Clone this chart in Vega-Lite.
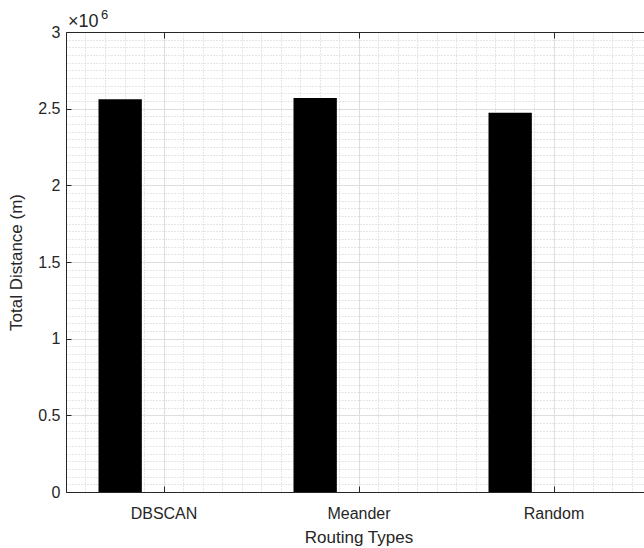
{
  "$schema": "https://vega.github.io/schema/vega-lite/v6.json",
  "width": 585,
  "height": 460,
  "autosize": {"type": "none"},
  "padding": {"left": 66, "top": 32, "right": 0, "bottom": 56},
  "background": "white",
  "config": {
    "font": "Liberation Sans",
    "view": {"stroke": null},
    "axis": {
      "labelColor": "#262626",
      "titleColor": "#262626",
      "domainColor": "#262626",
      "tickColor": "#262626",
      "labelFont": "Liberation Sans",
      "titleFont": "Liberation Sans",
      "labelFontSize": 16,
      "titleFontSize": 17,
      "titleFontWeight": "normal"
    }
  },
  "data": {
    "values": [
      {"type": "DBSCAN", "series": "1", "distance": 2561000},
      {"type": "DBSCAN", "series": "2", "distance": 0},
      {"type": "DBSCAN", "series": "3", "distance": 0},
      {"type": "Meander", "series": "1", "distance": 2570000},
      {"type": "Meander", "series": "2", "distance": 0},
      {"type": "Meander", "series": "3", "distance": 0},
      {"type": "Random", "series": "1", "distance": 2474000},
      {"type": "Random", "series": "2", "distance": 0},
      {"type": "Random", "series": "3", "distance": 0}
    ]
  },
  "layer": [
    {
      "mark": {"type": "point", "opacity": 0},
      "encoding": {
        "x": {
          "datum": 1,
          "type": "quantitative",
          "scale": {"domain": [0.5, 3.5], "nice": false, "zero": false},
          "axis": {
            "orient": "bottom",
            "values": [0.6, 0.7, 0.8, 0.9, 1.1, 1.2, 1.3, 1.4, 1.5, 1.6, 1.7, 1.8, 1.9, 2.1, 2.2, 2.3, 2.4, 2.5, 2.6, 2.7, 2.8, 2.9, 3.1, 3.2, 3.3, 3.4],
            "grid": true,
            "gridDash": [1, 2],
            "gridColor": "#cccccc",
            "labels": false,
            "ticks": false,
            "domain": false,
            "title": null
          }
        },
        "y": {
          "datum": 0,
          "type": "quantitative",
          "scale": {"domain": [0, 3000000], "nice": false},
          "axis": {
            "orient": "left",
            "values": [50000, 100000, 150000, 200000, 250000, 300000, 350000, 400000, 450000, 550000, 600000, 650000, 700000, 750000, 800000, 850000, 900000, 950000, 1050000, 1100000, 1150000, 1200000, 1250000, 1300000, 1350000, 1400000, 1450000, 1550000, 1600000, 1650000, 1700000, 1750000, 1800000, 1850000, 1900000, 1950000, 2050000, 2100000, 2150000, 2200000, 2250000, 2300000, 2350000, 2400000, 2450000, 2550000, 2600000, 2650000, 2700000, 2750000, 2800000, 2850000, 2900000, 2950000],
            "grid": true,
            "gridDash": [1, 2],
            "gridColor": "#cccccc",
            "labels": false,
            "ticks": false,
            "domain": false,
            "title": null
          }
        }
      }
    },
    {
      "mark": {"type": "point", "opacity": 0},
      "encoding": {
        "x": {
          "datum": 1,
          "type": "quantitative",
          "scale": {"domain": [0.5, 3.5], "nice": false, "zero": false},
          "axis": {
            "orient": "bottom",
            "values": [1, 2, 3],
            "labelExpr": "['DBSCAN', 'Meander', 'Random'][datum.value - 1]",
            "grid": true,
            "gridColor": "#dedede",
            "tickSize": -6,
            "labelPadding": 19,
            "title": "Routing Types",
            "titlePadding": 8
          }
        },
        "y": {
          "datum": 0,
          "type": "quantitative",
          "scale": {"domain": [0, 3000000], "nice": false},
          "axis": {
            "orient": "left",
            "values": [0, 500000, 1000000, 1500000, 2000000, 2500000, 3000000],
            "labelExpr": "datum.value / 1000000",
            "grid": true,
            "gridColor": "#dedede",
            "tickSize": -5,
            "labelPadding": 11,
            "title": "Total Distance (m)",
            "titlePadding": 12
          }
        }
      }
    },
    {
      "mark": {"type": "point", "opacity": 0},
      "encoding": {
        "x": {
          "datum": 1,
          "type": "quantitative",
          "scale": {"domain": [0.5, 3.5], "nice": false, "zero": false},
          "axis": {
            "orient": "top",
            "values": [1, 2, 3],
            "labels": false,
            "grid": false,
            "tickSize": -6,
            "title": null
          }
        },
        "y": {
          "datum": 0,
          "type": "quantitative",
          "scale": {"domain": [0, 3000000], "nice": false},
          "axis": null
        }
      }
    },
    {
      "mark": {"type": "bar", "color": "black"},
      "encoding": {
        "x": {
          "field": "type",
          "type": "nominal",
          "sort": null,
          "scale": {"paddingInner": 0, "paddingOuter": 0},
          "axis": null
        },
        "xOffset": {
          "field": "series",
          "type": "nominal",
          "sort": null,
          "scale": {"paddingInner": 0, "paddingOuter": 0.75}
        },
        "y": {
          "field": "distance",
          "type": "quantitative",
          "scale": {"domain": [0, 3000000], "nice": false},
          "axis": null
        }
      }
    },
    {
      "data": {"values": [{"label": "×10"}]},
      "mark": {"type": "text", "align": "left", "baseline": "alphabetic", "fontSize": 18, "fontWeight": "normal", "color": "#262626", "font": "Liberation Sans", "dx": 2, "dy": -5},
      "encoding": {
        "text": {"field": "label"},
        "x": {"datum": 0.5, "type": "quantitative", "scale": {"domain": [0.5, 3.5], "nice": false, "zero": false}, "axis": null},
        "y": {"datum": 3000000, "type": "quantitative", "scale": {"domain": [0, 3000000], "nice": false}, "axis": null}
      }
    },
    {
      "data": {"values": [{"label": "6"}]},
      "mark": {"type": "text", "align": "left", "baseline": "alphabetic", "fontSize": 13, "fontWeight": "normal", "color": "#262626", "font": "Liberation Sans", "dx": 35, "dy": -13},
      "encoding": {
        "text": {"field": "label"},
        "x": {"datum": 0.5, "type": "quantitative", "scale": {"domain": [0.5, 3.5], "nice": false, "zero": false}, "axis": null},
        "y": {"datum": 3000000, "type": "quantitative", "scale": {"domain": [0, 3000000], "nice": false}, "axis": null}
      }
    }
  ],
  "resolve": {
    "scale": {"x": "independent"},
    "axis": {"x": "independent", "y": "independent"}
  }
}
